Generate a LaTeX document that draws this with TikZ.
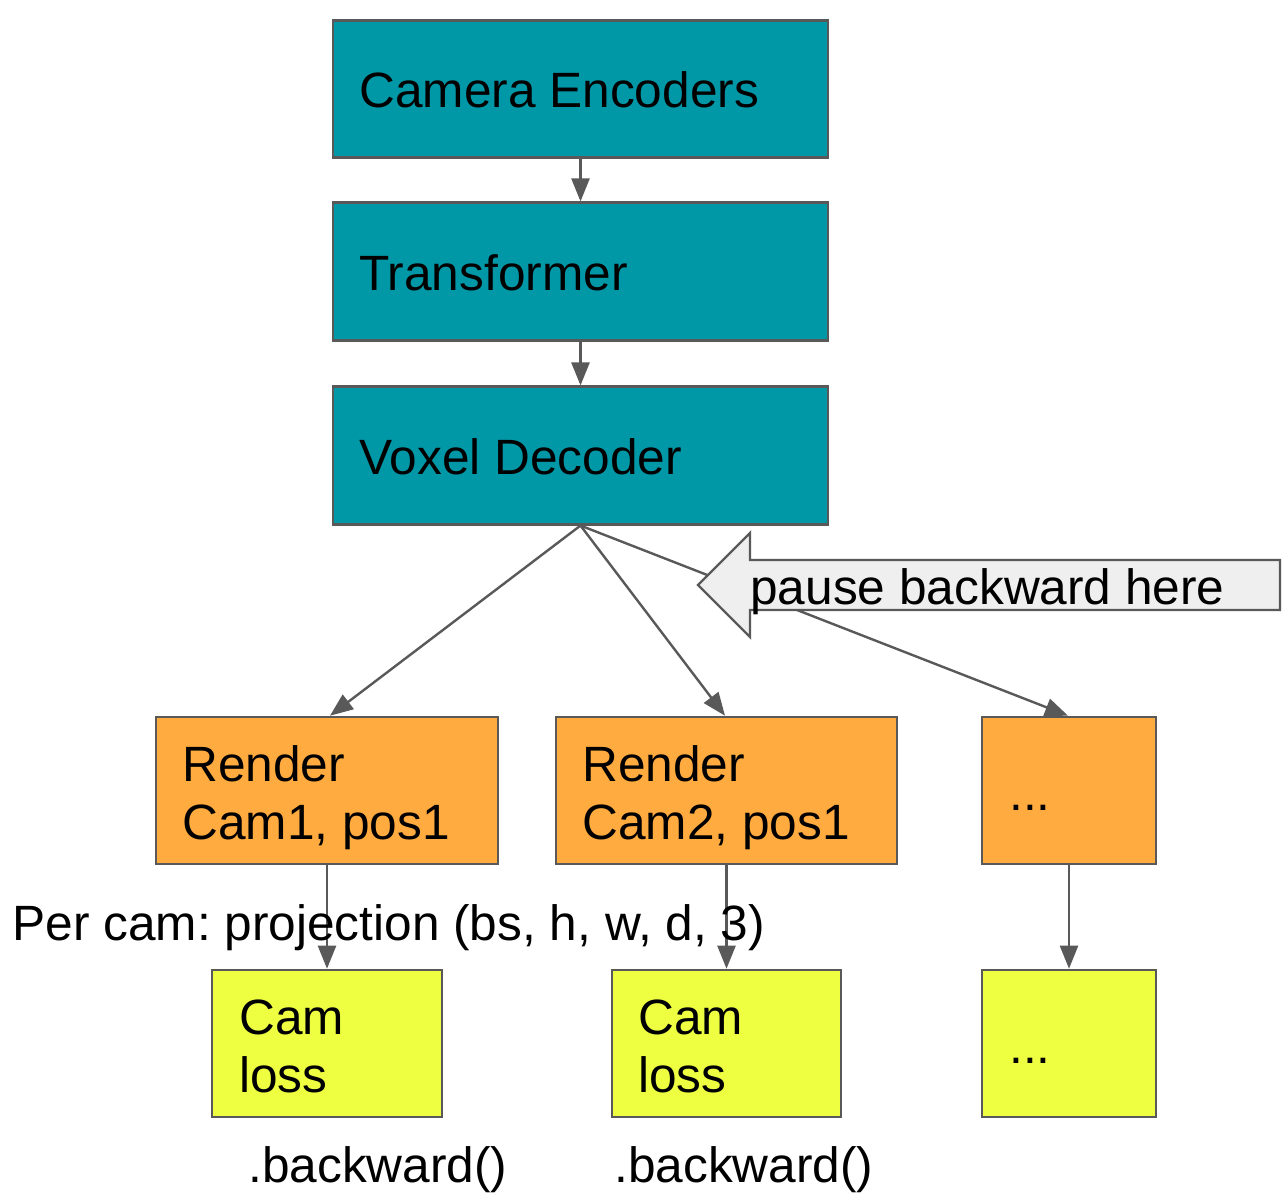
\documentclass[tikz,border=0pt]{standalone}
\usepackage{fontspec}
\setmainfont{Liberation Sans}
\usetikzlibrary{arrows.meta}
\definecolor{tealbox}{HTML}{0097A7}
\definecolor{orangebox}{HTML}{FFAB40}
\definecolor{yellowbox}{HTML}{EEFF41}
\definecolor{edgegray}{HTML}{595959}
\definecolor{calloutfill}{HTML}{EFEFEF}
\frenchspacing
\begin{document}
\begin{tikzpicture}[x=0.5pt,y=-0.5pt,
  box/.style={draw=edgegray, line width=1.3pt, inner sep=0pt},
  tealblk/.style={box, fill=tealbox, minimum width=247.5pt, minimum height=68.75pt},
  renderblk/.style={box, fill=orangebox, minimum height=73.5pt},
  lossblk/.style={box, fill=yellowbox, minimum height=73.5pt},
  conn/.style={draw=edgegray, line width=1.2pt, -{Triangle[length=11.5pt,width=9pt]}},
  txt/.style={font=\fontsize{24.8pt}{29pt}\selectfont, inner sep=0pt, anchor=base west, text=black},
  callout/.style={draw=edgegray, line width=1.2pt, fill=calloutfill, line join=miter}
]
\useasboundingbox (0,0) rectangle (1284,1194);

% boxes
\node[tealblk] (enc) at (580.5,89) {};
\node[tealblk] (tr) at (580.5,271.5) {};
\node[tealblk] (vox) at (580.5,455.5) {};
\node[renderblk, minimum width=171pt] (r1) at (327,790.5) {};
\node[renderblk, minimum width=170.5pt] (r2) at (726.5,790.5) {};
\node[renderblk, minimum width=87pt] (r3) at (1069,790.5) {};
\node[lossblk, minimum width=115pt] (l1) at (327,1043.5) {};
\node[lossblk, minimum width=114.5pt] (l2) at (726.5,1043.5) {};
\node[lossblk, minimum width=87pt] (l3) at (1069,1043.5) {};

% connectors
\draw[conn] (enc.south) -- (tr.north);
\draw[conn] (tr.south) -- (vox.north);
\coordinate (r1in) at (330,717);
\coordinate (r2in) at (725,717);
\coordinate (r3in) at (1068,717);
\draw[conn] (vox.south) -- (r1.north -| r1in);
\draw[conn] (vox.south) -- (r2.north -| r2in);
\draw[conn] (vox.south) -- (r3.north -| r3in);
\draw[conn] (r1.south) -- (l1.north);
\draw[conn] (r2.south) -- (l2.north);
\draw[conn] (r3.south) -- (l3.north);

% callout arrow
\path[callout] (698,585) -- (750,533) -- (750,560) -- (1280,560) -- (1280,610)
  -- (750,610) -- (750,637) -- cycle;

% texts
\node[txt] (tenc) at (359,107) {Camera Encoders};
\node[txt] (ttr) at (359,290) {Transformer};
\node[txt] (tvox) at (359,474) {Voxel Decoder};
\node[txt] (tr1a) at (182,781) {Render};
\node[txt] (tr1b) at (182,839) {Cam1, pos1};
\node[txt] (tr2a) at (582,781) {Render};
\node[txt] (tr2b) at (582,839) {Cam2, pos1};
\node[txt] (tr3) at (1009,810) {...};
\node[txt] (tl1a) at (239,1034) {Cam};
\node[txt] (tl1b) at (239,1092) {loss};
\node[txt] (tl2a) at (638,1034) {Cam};
\node[txt] (tl2b) at (638,1092) {loss};
\node[txt] (tl3) at (1009,1063) {...};
\node[txt] (tpause) at (750,604) {pause backward here};
\node[txt] (tproj) at (12,940) {Per cam: projection (bs, h, w, d, 3)};
\node[txt] (tb1) at (248,1182) {.backward()};
\node[txt] (tb2) at (614,1182) {.backward()};
\end{tikzpicture}
\end{document}
